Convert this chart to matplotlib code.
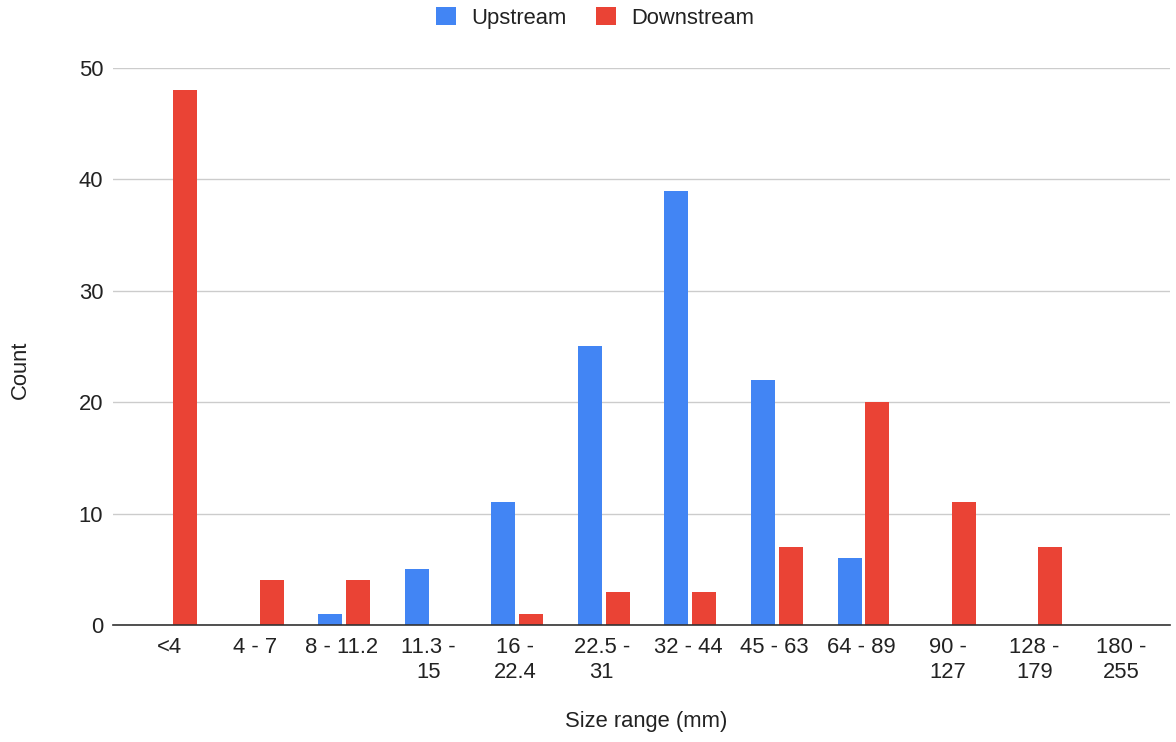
import matplotlib
matplotlib.use("Agg")
import matplotlib.pyplot as plt
import numpy as np
from matplotlib.patches import Patch

plt.rcParams["font.family"] = ["Liberation Sans", "DejaVu Sans"]

CATEGORIES = ["<4", "4 - 7", "8 - 11.2", "11.3 -\n15", "16 -\n22.4", "22.5 -\n31",
              "32 - 44", "45 - 63", "64 - 89", "90 -\n127", "128 -\n179", "180 -\n255"]
UPSTREAM   = [0, 0, 1, 5, 11, 25, 39, 22, 6, 0, 0, 0]
DOWNSTREAM = [48, 4, 4, 0, 1, 3, 3, 7, 20, 11, 7, 0]
Y_TICKS    = [0, 10, 20, 30, 40, 50]

BLUE = "#4285F4"
RED  = "#EA4335"
FS   = 15.8

fig = plt.figure(figsize=(11.76, 7.42), dpi=100)
ax = fig.add_axes([0.0961, 0.1577, 0.8989, 0.7507])

x = np.arange(len(CATEGORIES))
w = 0.277
ax.bar(x - 0.135, UPSTREAM, width=w, color=BLUE, zorder=3)
ax.bar(x + 0.185, DOWNSTREAM, width=w, color=RED, zorder=3)

ax.set_xlim(-0.647, 11.57)
ax.set_ylim(0, 50)
ax.set_yticks(Y_TICKS)
ax.set_yticklabels([str(t) for t in Y_TICKS], fontsize=FS, color="#222222")
ax.set_xticks(x)
ax.set_xticklabels(CATEGORIES, fontsize=FS, color="#222222", linespacing=1.2)
ax.tick_params(axis="both", length=0)
ax.tick_params(axis="y", pad=7)
ax.tick_params(axis="x", pad=9)

ax.grid(axis="y", color="#cccccc", linewidth=1, zorder=0)
for s in ["top", "right", "left"]:
    ax.spines[s].set_visible(False)
ax.spines["bottom"].set_color("#333333")
ax.spines["bottom"].set_linewidth(1.2)
ax.spines["bottom"].set_zorder(4)

fig.text(646 / 1176, 1 - 722 / 742, "Size range (mm)", ha="center", va="center",
         fontsize=FS, color="#222222")
fig.text(20 / 1176, 1 - 370 / 742, "Count", ha="center", va="center",
         rotation=90, fontsize=FS, color="#222222")

handles = [Patch(facecolor=BLUE, label="Upstream"),
           Patch(facecolor=RED, label="Downstream")]
fig.legend(handles=handles, loc="center", bbox_to_anchor=(0.506, 1 - 18 / 742),
           ncol=2, frameon=False, fontsize=FS, handlelength=0.9, handleheight=0.9,
           handletextpad=0.7, columnspacing=1.35, labelcolor="#222222")

fig.savefig("out.png", dpi=100)
